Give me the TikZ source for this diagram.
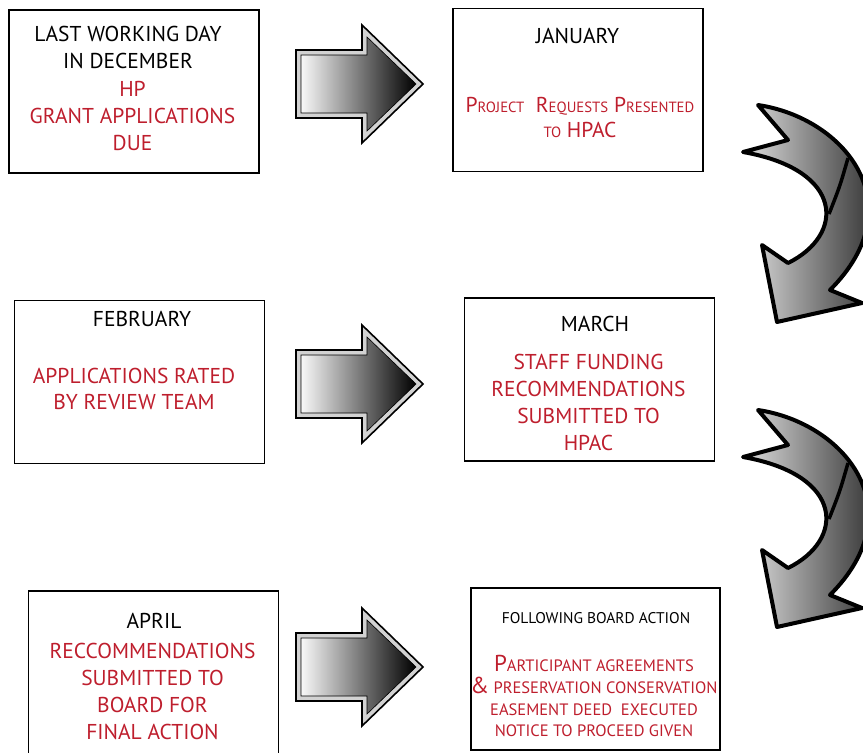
\documentclass[tikz,border=0pt]{standalone}
\usepackage{fontspec}
\setmainfont{PT Sans}
\usetikzlibrary{positioning}
\definecolor{hpred}{RGB}{190,30,45}
\newcommand{\fsc}[1]{{\fontsize{14.8}{20}\selectfont #1}}
\newcommand{\initcap}[1]{{\fontsize{23}{22}\selectfont #1}}

\begin{document}
\begin{tikzpicture}[x=1pt,y=-1pt]
	\tikzstyle{monthbox}=[draw=black, line width=1.5pt, minimum width=250pt, minimum height=163pt, inner sep=0pt]
	\tikzstyle{monthtext}=[font=\fontsize{21.5}{27}\selectfont, align=center, anchor=base, inner sep=0pt]
	\tikzstyle{steptext}=[monthtext, text=hpred]
	\tikzstyle{smalltext}=[font=\fontsize{15.5}{21.7}\selectfont, align=center, anchor=base, inner sep=0pt]
	
	\useasboundingbox (0,0) rectangle (863,753);
	\clip (0,0) rectangle (863,753);
	
	% boxes
	\node[monthbox] (dec) at (134,91.5) {};
	\node[monthbox] (jan) at (578,90) {};
	\node[monthbox] (feb) at (139.5,382) {};
	\node[monthbox] (mar) at (589.5,379.5) {};
	\node[monthbox, minimum height=170pt] (apr) at (153.5,676) {};
	\node[monthbox, minimum width=249pt, minimum height=162pt] (brd) at (595.5,669) {};
	
	% texts (base = last line)
	\node[monthtext] (decT) at (128,68.3) {LAST WORKING DAY\\IN DECEMBER};
	\node[steptext] (decR) at (132.5,150.7) {HP\\GRANT APPLICATIONS\\DUE};
	\node[monthtext] (janT) at (577.5,43) {JANUARY};
	\node[steptext, font=\fontsize{21.5}{25.5}\selectfont] (janR) at (580,137.5) {P\fsc{ROJECT}\ \ R\fsc{EQUESTS} P\fsc{RESENTED}\\\fsc{TO} HPAC};
	\node[monthtext] (febT) at (142,326.7) {FEBRUARY};
	\node[steptext, font=\fontsize{21.5}{26}\selectfont] (febR) at (134,409.3) {APPLICATIONS RATED\\BY REVIEW TEAM};
	\node[monthtext] (marT) at (595,331.7) {MARCH};
	\node[steptext, font=\fontsize{21.5}{26.7}\selectfont] (marR) at (588.5,450) {STAFF FUNDING\\RECOMMENDATIONS\\SUBMITTED TO\\HPAC};
	\node[monthtext] (aprT) at (154,628.3) {APRIL};
	\node[steptext, font=\fontsize{21.5}{26.8}\selectfont] (aprR) at (152.5,739.3) {RECCOMMENDATIONS\\SUBMITTED TO\\BOARD FOR\\FINAL ACTION};
	\node[smalltext] (brdT) at (596,623.3) {FOLLOWING BOARD ACTION};
	\node[smalltext, font=\fontsize{16.5}{21.7}\selectfont, text=hpred] (brdR) at (594,736.7) {\initcap{P}ARTICIPANT AGREEMENTS\\\initcap{\&} PRESERVATION CONSERVATION\\EASEMENT DEED\ \ EXECUTED\\NOTICE TO PROCEED GIVEN};
	
	% straight arrows
	\foreach \c in {84,384,667} {
		\draw[line width=1.6pt, fill=gray!35] (296,\c-34) -- (362,\c-34) -- (362,\c-59) -- (423,\c) -- (362,\c+59) -- (362,\c+34) -- (296,\c+34) -- cycle;
		\draw[line width=0.6pt, left color=gray!5, right color=black] (301,\c-29) -- (367,\c-29) -- (367,\c-47) -- (416,\c) -- (367,\c+47) -- (367,\c+29) -- (301,\c+29) -- cycle;
	}
	
	% curved arrows
	\foreach \s in {0,305} {
		\begin{scope}[shift={(0,\s)}]
			\draw[line width=4pt, line join=round, left color=gray!25, right color=black] (758,105) .. controls (845,118) and (915,205) .. (830,290) -- (862,303) -- (777,322) -- (762,245) -- (788,263) .. controls (845,235) and (845,170) .. (743,152) -- (788,140) -- cycle;
			\draw[line width=3.5pt] (848,158) .. controls (840,186) .. (829,214);
		\end{scope}
	}
\end{tikzpicture}
\end{document}
